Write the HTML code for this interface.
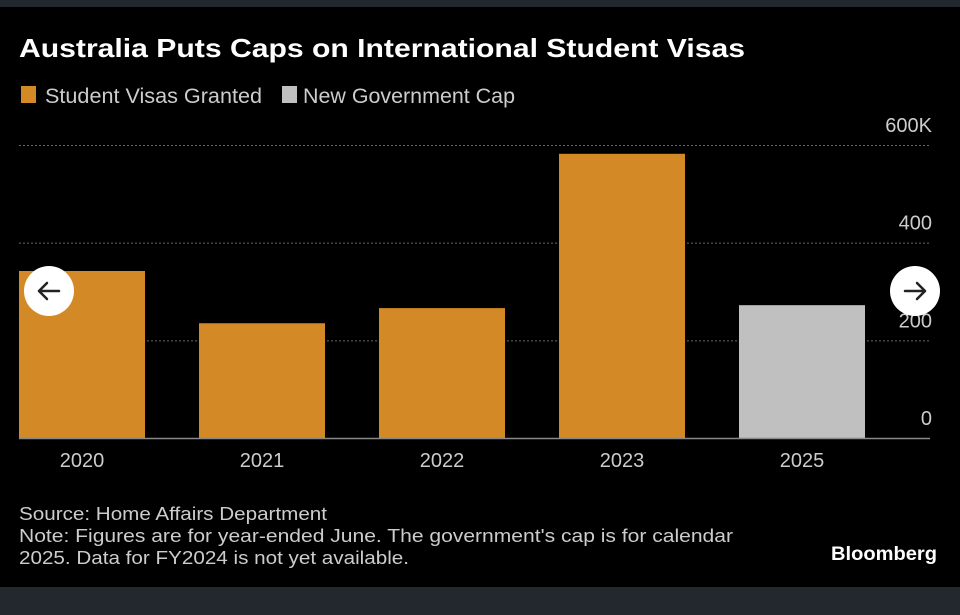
<!DOCTYPE html>
<html><head><meta charset="utf-8"><style>
html,body{margin:0;padding:0;background:#000;width:960px;height:615px;overflow:hidden}
svg{display:block}
text{font-family:"Liberation Sans Narrow","Liberation Sans",sans-serif}
</style></head><body>
<svg id="chart" width="960" height="615" viewBox="0 0 960 615">
<rect x="0" y="0" width="960" height="7" fill="#23272e"/>
<rect x="0" y="587" width="960" height="28" fill="#23272e"/>
<text x="19" y="57" fill="#fff" font-size="26" font-weight="bold" textLength="726" lengthAdjust="spacingAndGlyphs">Australia Puts Caps on International Student Visas</text>
<g>
<rect x="21" y="86" width="15" height="17" fill="#d38a26"/>
<text x="45" y="103" fill="#ccc" font-size="21" textLength="217" lengthAdjust="spacingAndGlyphs">Student Visas Granted</text>
<rect x="282" y="86" width="15" height="17" fill="#c0c0c0"/>
<text x="303" y="103" fill="#ccc" font-size="21" textLength="212" lengthAdjust="spacingAndGlyphs">New Government Cap</text>
</g>
<g id="grid"></g>
<g id="bars"></g>
<g id="xlabels"></g>
<line x1="19" y1="438.5" x2="930" y2="438.5" stroke="#888" stroke-width="1.5"/>
<text x="19" y="520" fill="#ccc" font-size="18" textLength="308" lengthAdjust="spacingAndGlyphs">Source: Home Affairs Department</text>
<text x="19" y="542" fill="#ccc" font-size="18" textLength="714" lengthAdjust="spacingAndGlyphs">Note: Figures are for year-ended June. The government's cap is for calendar</text>
<text x="19" y="564" fill="#ccc" font-size="18" textLength="390" lengthAdjust="spacingAndGlyphs">2025. Data for FY2024 is not yet available.</text>
<text x="937" y="560" fill="#fff" font-size="19" font-weight="bold" text-anchor="end" textLength="106" lengthAdjust="spacingAndGlyphs">Bloomberg</text>
<g>
<circle cx="49" cy="291" r="25" fill="#fff"/>
<path d="M59 291H39M47 283l-8 8 8 8" stroke="#222" stroke-width="2.5" fill="none" stroke-linecap="round" stroke-linejoin="round"/>
</g>
<g>
<circle cx="915" cy="291" r="25" fill="#fff"/>
<path d="M905 291h20M917 283l8 8-8 8" stroke="#222" stroke-width="2.5" fill="none" stroke-linecap="round" stroke-linejoin="round"/>
</g>
</svg>
<script>
const categories = ["2020","2021","2022","2023","2025"];
const values = [342, 235, 266, 582, 272];
const seriesType = ["granted","granted","granted","granted","cap"];
const tickValues = [0, 200, 400, 600];
const tickLabels = ["0","200","400","600K"];
const NS = "http://www.w3.org/2000/svg";
const y0 = 438, pxPer = (438 - 145) / 600;
function yScale(v){ return y0 - v * pxPer; }
function xScale(i){ return 19 + i * 180; }
const barW = 126;
const grid = document.getElementById('grid');
tickValues.forEach((t, i) => {
  const y = yScale(t);
  if (t !== 0) {
    const l = document.createElementNS(NS, 'line');
    l.setAttribute('x1', 19); l.setAttribute('x2', 930);
    l.setAttribute('y1', y + 0.5); l.setAttribute('y2', y + 0.5);
    l.setAttribute('stroke', '#666'); l.setAttribute('stroke-dasharray', '2,2');
    
    
    grid.appendChild(l);
  }
  const tx = document.createElementNS(NS, 'text');
  tx.setAttribute('x', 932); tx.setAttribute('y', y - 13);
  tx.setAttribute('fill', '#ccc'); tx.setAttribute('font-size', '20');
  tx.setAttribute('text-anchor', 'end');
  tx.textContent = tickLabels[i];
  
  
  grid.appendChild(tx);
});
const bars = document.getElementById('bars');
const xl = document.getElementById('xlabels');
categories.forEach((c, i) => {
  const r = document.createElementNS(NS, 'rect');
  const y = yScale(values[i]);
  r.setAttribute('x', xScale(i)); r.setAttribute('y', y);
  r.setAttribute('width', barW); r.setAttribute('height', y0 - y);
  r.setAttribute('fill', seriesType[i] === 'cap' ? '#c0c0c0' : '#d38a26');
  
  
  bars.appendChild(r);
  const t = document.createElementNS(NS, 'text');
  t.setAttribute('x', xScale(i) + barW / 2); t.setAttribute('y', 467);
  t.setAttribute('fill', '#ccc'); t.setAttribute('font-size', '20');
  t.setAttribute('text-anchor', 'middle');
  t.textContent = c;
  
  
  xl.appendChild(t);
});
</script>
</body></html>
